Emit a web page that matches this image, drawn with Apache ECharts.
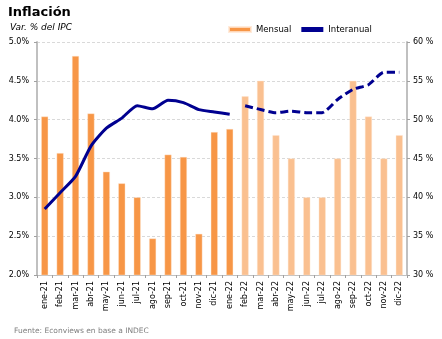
<!DOCTYPE html>
<html>
<head>
<meta charset="utf-8">
<script src="https://cdn.jsdelivr.net/npm/echarts@6/dist/echarts.min.js"></script>
<style>
  html, body { margin: 0; padding: 0; background: #fff; }
  #chart { width: 442px; height: 339px; }
</style>
</head>
<body>
<div id="chart"></div>
<script>
// Months (2021 observed, 2022 projected)
const months = ['ene-21','feb-21','mar-21','abr-21','may-21','jun-21','jul-21','ago-21','sep-21','oct-21','nov-21','dic-21',
                'ene-22','feb-22','mar-22','abr-22','may-22','jun-22','jul-22','ago-22','sep-22','oct-22','nov-22','dic-22'];
// Monthly CPI change (%), left axis
const mensual = [4.04, 3.57, 4.82, 4.08, 3.33, 3.18, 3.0, 2.47, 3.55, 3.52, 2.53, 3.84,
                 3.88, 4.3, 4.5, 3.8, 3.5, 3.0, 3.0, 3.5, 4.5, 4.04, 3.5, 3.8];
// Year-on-year CPI change (%), right axis
const interanual = [38.5, 40.6, 42.7, 46.6, 48.9, 50.2, 51.8, 51.4, 52.5, 52.2, 51.3, 51.0,
                    50.7, 51.8, 51.3, 50.9, 51.1, 50.9, 50.9, 52.6, 53.9, 54.5, 56.1, 56.1];
// Index of the first projected month
const firstProjected = 13;

const orange = '#F79646';
const orangeLight = '#FAC090';
const navy = '#000090';

const barData = mensual.map((v, i) => ({
  value: v,
  itemStyle: { color: i < firstProjected ? orange : orangeLight }
}));
const lineObserved = interanual.map((v, i) => i < firstProjected ? v : null);
const lineProjected = interanual.map((v, i) => i >= firstProjected ? v : null);

const font = 'DejaVu Sans';
const chart = echarts.init(document.getElementById('chart'), null, { renderer: 'canvas' });
chart.setOption({
  animation: false,
  textStyle: { fontFamily: font },
  title: [
    { text: 'Inflación', left: 3, top: 1,
      textStyle: { fontFamily: font, fontSize: 13, fontWeight: 'bold', color: '#000' } },
    { text: 'Var. % del IPC', left: 5, top: 18,
      textStyle: { fontFamily: font, fontSize: 9, fontStyle: 'italic', fontWeight: 'normal', color: '#000' } },
    { text: 'Fuente: Econviews en base a INDEC', left: 9, top: 322,
      textStyle: { fontFamily: font, fontSize: 7.5, fontWeight: 'normal', color: '#808080' } }
  ],
  legend: {
    top: 20, left: 223,
    itemGap: 10, itemWidth: 22, itemHeight: 5,
    textStyle: { fontFamily: font, fontSize: 8.5, color: '#000' },
    data: [
      { name: 'Mensual', icon: 'rect', itemStyle: { color: orange } },
      { name: 'Interanual', icon: 'rect', itemStyle: { color: navy } }
    ],
    selectedMode: false
  },
  grid: { left: 37, right: 35, top: 42, bottom: 64 },
  xAxis: {
    type: 'category',
    data: months,
    axisLine: { lineStyle: { color: '#c0c0c0', width: 1 } },
    axisTick: { show: true, alignWithLabel: false, lineStyle: { color: '#a0a0a0' }, length: 3 },
    axisLabel: { rotate: 90, fontSize: 8, color: '#000', fontFamily: font, margin: 6 }
  },
  yAxis: [
    {
      type: 'value', min: 2, max: 5, interval: 0.5,
      axisLine: { show: true, lineStyle: { color: '#c0c0c0', width: 2 } },
      axisTick: { show: true, length: 3, lineStyle: { color: '#a0a0a0' } },
      axisLabel: { fontSize: 8, color: '#000', fontFamily: font, margin: 8,
                   formatter: v => v.toFixed(1) + '%' },
      splitLine: { lineStyle: { color: '#d9d9d9', type: [3, 2] } }
    },
    {
      type: 'value', min: 30, max: 60, interval: 5,
      axisLine: { show: true, lineStyle: { color: '#c0c0c0', width: 2 } },
      axisTick: { show: true, length: 3, lineStyle: { color: '#a0a0a0' } },
      axisLabel: { fontSize: 8, color: '#000', fontFamily: font, margin: 6,
                   formatter: v => v + ' %' },
      splitLine: { show: false }
    }
  ],
  series: [
    {
      name: 'Mensual', type: 'bar', yAxisIndex: 0,
      data: barData, barWidth: 7,
      itemStyle: { borderColor: 'rgba(255,230,210,0.8)', borderWidth: 0.5 }
    },
    {
      name: 'Interanual', type: 'line', yAxisIndex: 1,
      data: lineObserved, showSymbol: false, smooth: 0.2, connectNulls: false,
      lineStyle: { color: navy, width: 3 }, itemStyle: { color: navy }
    },
    {
      name: 'Interanual', type: 'line', yAxisIndex: 1,
      data: lineProjected, showSymbol: false, smooth: 0.2, connectNulls: false,
      lineStyle: { color: navy, width: 3, type: [8, 4] }, itemStyle: { color: navy }
    }
  ]
});
</script>
</body>
</html>
